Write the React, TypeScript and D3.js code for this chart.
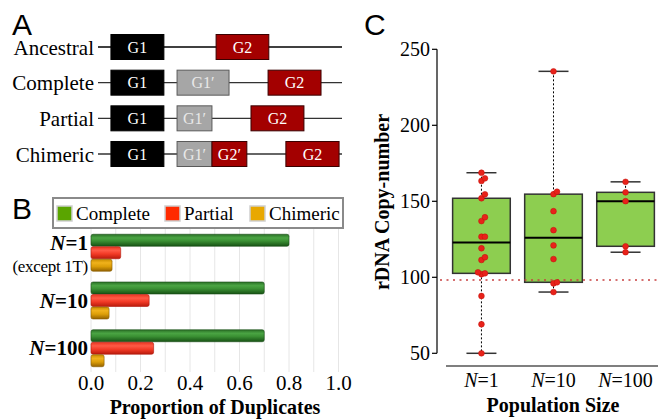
import React from "react";
import * as d3 from "d3";

// ---------- Panel A data ----------
const rowsA = ["Ancestral", "Complete", "Partial", "Chimeric"];
// [rowIndex, label, kind, start, end] in arbitrary genome units (0..10)
const segmentsA: [number, string, string, number, number][] = [
  [0, "G1", "g1", 0.53, 2.7],
  [0, "G2", "g2", 4.84, 7.0],
  [1, "G1", "g1", 0.53, 2.7],
  [1, "G1\u2032", "g1p", 3.24, 5.37],
  [1, "G2", "g2", 6.97, 9.14],
  [2, "G1", "g1", 0.53, 2.7],
  [2, "G1\u2032", "g1p", 3.24, 4.67],
  [2, "G2", "g2", 6.27, 8.44],
  [3, "G1", "g1", 0.53, 2.7],
  [3, "G1\u2032", "g1p", 3.24, 4.67],
  [3, "G2\u2032", "g2", 4.67, 6.1],
  [3, "G2", "g2", 7.7, 9.88],
];

// ---------- Panel B data ----------
const catsB = ["N=1", "N=10", "N=100"];
const seriesB = ["Complete", "Partial", "Chimeric"];
const completeVals = [0.8, 0.7, 0.7];
const partialVals = [0.12, 0.235, 0.253];
const chimericVals = [0.085, 0.073, 0.053];
const ticksB = [0, 0.2, 0.4, 0.6, 0.8, 1.0];

// ---------- Panel C data ----------
const catsC = ["1", "10", "100"];
const valsN1 = [168.8, 165.1, 163.4, 154.6, 152.0, 139.5, 137.0, 126.7, 126.7, 119.1, 113.2, 111.4, 103.3, 102.6, 102.0, 87.7, 69.1, 50.0];
const valsN10 = [235.5, 156.3, 154.7, 143.5, 131.0, 121.0, 112.0, 96.7, 96.0, 90.3];
const valsN100 = [162.8, 155.9, 150.1, 120.4, 116.5];
const ticksC = [50, 100, 150, 200, 250];
const refLine = 98.3;

const SERIF = "'Liberation Serif', 'Times New Roman', serif";
const SANS = "'Liberation Sans', Arial, sans-serif";

function hinges(vals: number[]) {
  const s = [...vals].sort((a, b) => a - b);
  const n = s.length;
  const lower = s.slice(0, Math.ceil(n / 2));
  const upper = s.slice(Math.floor(n / 2));
  return {
    min: s[0],
    max: s[n - 1],
    q1: d3.median(lower) as number,
    med: d3.median(s) as number,
    q3: d3.median(upper) as number,
  };
}

function jitter(vals: number[]) {
  const s = [...vals].sort((a, b) => a - b);
  const placed: { v: number; o: number }[] = [];
  for (const v of s) {
    const near = placed.filter((p) => Math.abs(p.v - v) < 3);
    let o = 0;
    if (near.some((p) => p.o === 0)) o = 3.5;
    if (near.some((p) => p.o === 0) && near.some((p) => p.o === 3.5)) o = -3.5;
    placed.push({ v, o });
  }
  return placed;
}

export default function App() {
  // Panel A scales
  const xA = d3.scaleLinear().domain([0, 10]).range([98, 342]);
  const yA = d3.scalePoint().domain(rowsA).range([47, 154]);
  const fillA: Record<string, string> = { g1: "#000000", g1p: "#a6a6a6", g2: "#a30000" };
  const strokeA: Record<string, string> = { g1: "#000000", g1p: "#5a5a5a", g2: "#3a0000" };
  const textA: Record<string, string> = { g1: "#ffffff", g1p: "#e8e8e8", g2: "#ffffff" };

  // Panel B scales
  const xB = d3.scaleLinear().domain([0, 1]).range([91, 338.5]);
  const yB = d3.scaleBand().domain(catsB).range([229, 372]).paddingInner(0.225).paddingOuter(0.11);
  const ySub = d3.scaleBand().domain(seriesB).range([0, yB.bandwidth()]).paddingInner(0.04);
  const seriesVals = [completeVals, partialVals, chimericVals];
  const gradIds = ["gGreen", "gRed", "gGold"];
  const legendColors = ["#5aa500", "#ff2a00", "#e8a800"];
  const barEdge = ["#1a4d17", "#b0180c", "#8a5c00"];

  // Panel C scales
  const xC = d3.scaleBand().domain(catsC).range([447, 660]).paddingInner(0.2).paddingOuter(0.078);
  const yC = d3.scaleLinear().domain([50, 250]).range([353.3, 49.3]);
  const dataC = [valsN1, valsN10, valsN100];
  const capHalf = 15;

  return (
    <svg width={658} height={420} style={{ position: "absolute", left: 0, top: 0, background: "#fff" }}>
      <defs>
        <linearGradient id="gGreen" x1="0" y1="0" x2="0" y2="1">
          <stop offset="0%" stopColor="#2a7026" />
          <stop offset="30%" stopColor="#4aa443" />
          <stop offset="55%" stopColor="#3b9134" />
          <stop offset="100%" stopColor="#175214" />
        </linearGradient>
        <linearGradient id="gRed" x1="0" y1="0" x2="0" y2="1">
          <stop offset="0%" stopColor="#e8341f" />
          <stop offset="30%" stopColor="#ff5a46" />
          <stop offset="60%" stopColor="#f23a26" />
          <stop offset="100%" stopColor="#b81a0c" />
        </linearGradient>
        <linearGradient id="gGold" x1="0" y1="0" x2="0" y2="1">
          <stop offset="0%" stopColor="#c98d00" />
          <stop offset="30%" stopColor="#f0b21c" />
          <stop offset="60%" stopColor="#dc9e08" />
          <stop offset="100%" stopColor="#946200" />
        </linearGradient>
      </defs>

      {/* ---------------- Panel A ---------------- */}
      <text x={12} y={35} fontFamily={SANS} fontSize={30}>A</text>
      {rowsA.map((r) => (
        <g key={r}>
          <line x1={xA(0)} x2={xA(10)} y1={yA(r)!} y2={yA(r)!} stroke={r === "Ancestral" ? "#000" : "#333"} strokeWidth={1.3} />
          <text x={94} y={yA(r)! + 7.5} textAnchor="end" fontFamily={SERIF} fontSize={21}>{r}</text>
        </g>
      ))}
      {segmentsA.map(([ri, label, kind, s, e], i) => {
        const cy = yA(rowsA[ri])!;
        return (
          <g key={i}>
            <rect x={xA(s)} y={cy - 12.5} width={xA(e) - xA(s)} height={25} fill={fillA[kind]} stroke={strokeA[kind]} strokeWidth={1} />
            <text x={(xA(s) + xA(e)) / 2} y={cy + 5.5} textAnchor="middle" fontFamily={SERIF} fontSize={16} fill={textA[kind]}>{label}</text>
          </g>
        );
      })}

      {/* ---------------- Panel B ---------------- */}
      <text x={12} y={219} fontFamily={SANS} fontSize={30}>B</text>
      {d3.range(0, 1.001, 0.1).map((t) => (
        <line key={t} x1={xB(t)} x2={xB(t)} y1={229} y2={372} stroke="#e6e6e6" strokeWidth={1} />
      ))}
      {/* legend */}
      <rect x={53} y={198} width={290} height={30} fill="#fff" stroke="#8a8a8a" strokeWidth={2} />
      {seriesB.map((s, i) => {
        const lx = [57, 165, 250][i];
        return (
          <g key={s}>
            <rect x={lx} y={206} width={15} height={15} fill={legendColors[i]} stroke="#cfcfcf" strokeWidth={1.5} />
            <text x={lx + 19} y={219.5} fontFamily={SERIF} fontSize={19}>{s}</text>
          </g>
        );
      })}
      {catsB.map((c, ci) =>
        seriesB.map((s, si) => {
          const y = yB(c)! + ySub(s)!;
          const h = ySub.bandwidth();
          return (
            <rect key={c + s} x={xB(0)} y={y} width={xB(seriesVals[si][ci]) - xB(0)} height={h}
              rx={2} ry={2} fill={`url(#${gradIds[si]})`} stroke={barEdge[si]} strokeWidth={0.6} />
          );
        })
      )}
      {catsB.map((c, ci) => {
        const cy = yB(c)! + yB.bandwidth() / 2;
        const ty = ci === 0 ? cy - 3 : cy + 7;
        const num = c.split("=")[1];
        return (
          <g key={c}>
            <text x={88} y={ty} textAnchor="end" fontFamily={SERIF} fontSize={21} fontWeight="bold">
              <tspan fontStyle="italic">N</tspan>={num}
            </text>
            {ci === 0 && (
              <text x={88} y={cy + 19} textAnchor="end" fontFamily={SERIF} fontSize={17} letterSpacing={-0.3}>(except 1T)</text>
            )}
          </g>
        );
      })}
      {ticksB.map((t) => (
        <text key={t} x={xB(t)} y={390} textAnchor="middle" fontFamily={SERIF} fontSize={21}>{t.toFixed(1)}</text>
      ))}
      <text x={215} y={414} textAnchor="middle" fontFamily={SERIF} fontSize={20} fontWeight="bold">Proportion of Duplicates</text>

      {/* ---------------- Panel C ---------------- */}
      <text x={364} y={35} fontFamily={SANS} fontSize={30}>C</text>
      <line x1={437} x2={437} y1={yC(250)} y2={yC(50)} stroke="#000" strokeWidth={1.2} />
      {ticksC.map((t) => (
        <g key={t}>
          <line x1={432} x2={437} y1={yC(t)} y2={yC(t)} stroke="#000" strokeWidth={1.2} />
          <text x={430} y={yC(t)} dy="0.35em" textAnchor="end" fontFamily={SERIF} fontSize={20}>{t}</text>
        </g>
      ))}
      <line x1={446} x2={658} y1={366} y2={366} stroke="#000" strokeWidth={1.2} />
      <text transform={`translate(389,202) rotate(-90)`} textAnchor="middle" fontFamily={SERIF} fontSize={20} fontWeight="bold">rDNA Copy-number</text>
      {catsC.map((c, i) => {
        const cx = xC(c)! + xC.bandwidth() / 2;
        const st = hinges(dataC[i]);
        const x0 = xC(c)!;
        const w = xC.bandwidth();
        return (
          <g key={c}>
            <line x1={cx} x2={cx} y1={yC(st.max)} y2={yC(st.q3)} stroke="#000" strokeWidth={1} strokeDasharray="2,2" />
            <line x1={cx} x2={cx} y1={yC(st.q1)} y2={yC(st.min)} stroke="#000" strokeWidth={1} strokeDasharray="2,2" />
            <line x1={cx - capHalf} x2={cx + capHalf} y1={yC(st.max)} y2={yC(st.max)} stroke="#333" strokeWidth={1.5} />
            <line x1={cx - capHalf} x2={cx + capHalf} y1={yC(st.min)} y2={yC(st.min)} stroke="#333" strokeWidth={1.5} />
            <rect x={x0} y={yC(st.q3)} width={w} height={yC(st.q1) - yC(st.q3)} fill="#8dce50" stroke="#333" strokeWidth={1.5} />
            <line x1={x0} x2={x0 + w} y1={yC(st.med)} y2={yC(st.med)} stroke="#000" strokeWidth={2} />
            <text x={cx} y={387} textAnchor="middle" fontFamily={SERIF} fontSize={20}>
              <tspan fontStyle="italic">N</tspan>={c}
            </text>
          </g>
        );
      })}
      <line x1={440} x2={658} y1={yC(refLine)} y2={yC(refLine)} stroke="#c84040" strokeWidth={1.5} strokeDasharray="2,4.5" />
      {catsC.map((c, i) => {
        const cx = xC(c)! + xC.bandwidth() / 2;
        return jitter(dataC[i]).map((p, j) => (
          <circle key={c + j} cx={cx + p.o} cy={yC(p.v)} r={2.9} fill="#e8221a" stroke="#c0100a" strokeWidth={0.5} />
        ));
      })}
      <text x={553} y={412} textAnchor="middle" fontFamily={SERIF} fontSize={20} fontWeight="bold">Population Size</text>
    </svg>
  );
}
